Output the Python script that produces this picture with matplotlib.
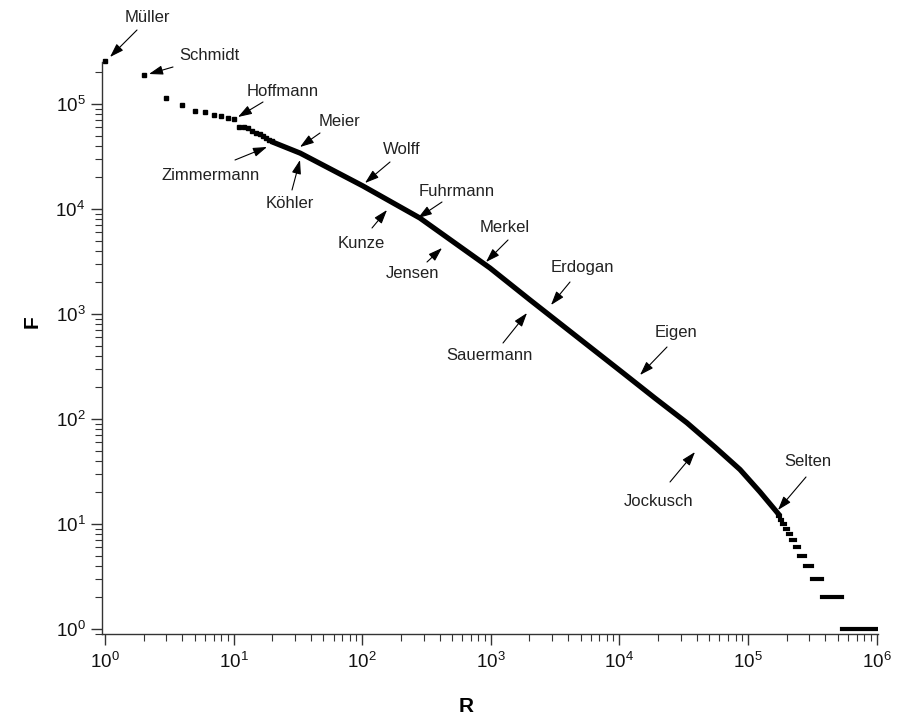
import numpy as np
import matplotlib.pyplot as plt
from matplotlib.ticker import LogLocator, NullFormatter

plt.rcParams['font.family'] = ['Liberation Sans', 'DejaVu Sans']

# ranks 1..20 are drawn as single points
top_rank = list(range(1, 21))
top_freq = [256000, 190000, 115000, 97000, 85000, 83000, 79000, 76000, 74000, 72000,
            60000, 60000, 59000, 55000, 53000, 52000, 49000, 47000, 45000, 44000]

# the dense part of the curve, read at a few ranks
curve_rank = [20, 33, 101, 281, 986, 2020, 10700, 18900, 33500, 55400, 86700, 124000, 177000]
curve_freq = [43500, 34000, 16600, 8200, 2740, 1360, 274, 158, 92, 54, 33, 20.2, 12]

# steps at the end (many names share one frequency)
tail_freq = [12, 11, 10, 9, 8, 7, 6, 5, 4, 3, 2, 1]
tail_start = [1.70e5, 1.76e5, 1.83e5, 1.93e5, 2.05e5, 2.16e5, 2.32e5, 2.49e5, 2.78e5, 3.15e5, 3.76e5, 5.40e5]
tail_end = [1.76e5, 1.83e5, 1.93e5, 2.05e5, 2.16e5, 2.32e5, 2.49e5, 2.78e5, 3.15e5, 3.76e5, 5.40e5, 1.03e6]

names = ['Müller', 'Schmidt', 'Hoffmann', 'Meier', 'Zimmermann', 'Köhler', 'Wolff', 'Kunze',
         'Fuhrmann', 'Jensen', 'Merkel', 'Sauermann', 'Erdogan', 'Eigen', 'Jockusch', 'Selten']

# label layout in picture pixels (from top left)
text_px = [(147, 17), (209, 55), (283, 92), (340, 121), (211, 175), (290, 204), (402, 149), (361, 243),
           (457, 191), (413, 273), (505, 227), (489, 355), (582, 267), (676, 332), (659, 502), (808, 462)]
tail_px = [(137, 30), (173, 67), (263, 102), (320, 133), (235, 160), (292, 190), (390, 162), (372, 228),
           (442, 202), (427, 262), (508, 240), (503, 343), (570, 282), (667, 347), (670, 482), (806, 477)]
tip_px = [(110, 57), (149, 74), (238, 117), (300, 147), (267, 147), (300, 160), (365, 183), (387, 210),
          (418, 218), (442, 248), (486, 262), (527, 313), (551, 305), (640, 375), (695, 452), (778, 510)]

W, H = 900, 723
fig = plt.figure(figsize=(W / 100, H / 100), dpi=100)
ax = fig.add_axes([102 / W, (H - 634) / H, 776 / W, 572 / H])

ax.plot(top_rank, top_freq, ls='none', marker='s', ms=3.4, color='black', clip_on=False)
ax.plot(curve_rank, curve_freq, color='black', lw=3.8, solid_capstyle='butt', solid_joinstyle='round')
ax.hlines(tail_freq, tail_start, tail_end, color='black', lw=3.0, capstyle='projecting')

ax.set_xscale('log')
ax.set_yscale('log')
ax.set_xlim(0.948, 1.026e6)
ax.set_ylim(0.896, 2.51e5)

for side in ['top', 'right']:
    ax.spines[side].set_visible(False)
for side in ['left', 'bottom']:
    ax.spines[side].set_color('#333333')
    ax.spines[side].set_linewidth(1.0)

ax.xaxis.set_major_locator(LogLocator(base=10, numticks=10))
ax.xaxis.set_minor_locator(LogLocator(base=10, subs=np.arange(2, 10), numticks=20))
ax.yaxis.set_major_locator(LogLocator(base=10, numticks=10))
ax.yaxis.set_minor_locator(LogLocator(base=10, subs=np.arange(2, 10), numticks=20))
ax.xaxis.set_minor_formatter(NullFormatter())
ax.yaxis.set_minor_formatter(NullFormatter())
ax.tick_params(which='major', direction='out', length=8, width=1, color='#333333',
               labelsize=13.5, labelcolor='#111111')
ax.tick_params(which='minor', direction='out', length=5, width=0.8, color='#333333')
ax.tick_params(axis='y', which='major', pad=4)
ax.tick_params(axis='x', which='major', pad=5)

ax.set_xlabel('R', fontsize=15, fontweight='bold')
ax.set_ylabel('F', fontsize=15, fontweight='bold')
ax.xaxis.set_label_coords((466 - 102) / 776, (634 - 697) / 572)
ax.yaxis.set_label_coords((42 - 102) / 776, (634 - 322) / 572)

fig.canvas.draw()
inv = ax.transData.inverted()


def px2data(p):
    return inv.transform((p[0], H - p[1]))


for name, tp, a, b in zip(names, text_px, tail_px, tip_px):
    x, y = px2data(tp)
    ax.text(x, y, name, fontsize=12, color='#222222', ha='center', va='center')
    ax.annotate('', xy=px2data(b), xytext=px2data(a), annotation_clip=False,
                arrowprops=dict(arrowstyle='-|>,head_length=0.6,head_width=0.2',
                                mutation_scale=14, color='black', lw=0.8,
                                shrinkA=0, shrinkB=0))

fig.savefig('out.png', dpi=100)
